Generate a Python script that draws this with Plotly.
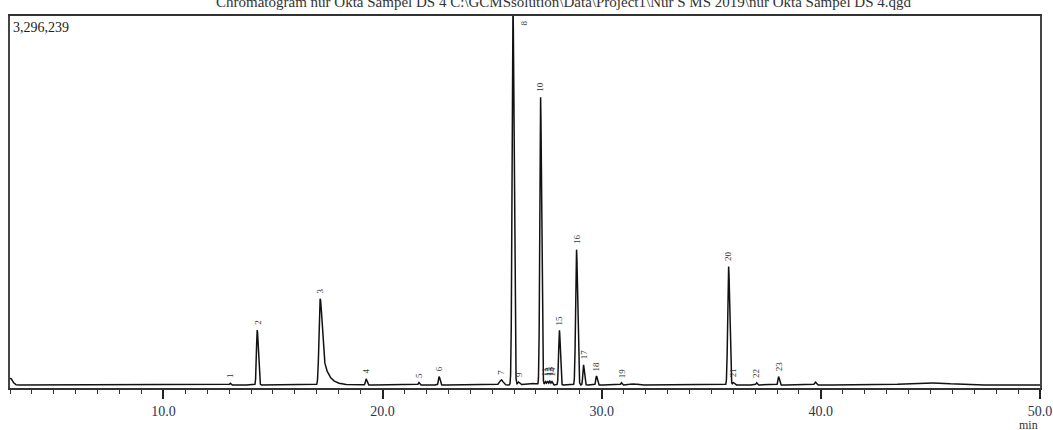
import numpy as np
import plotly.graph_objects as go

# Peak table (retention time in min, height in counts)
peak_labels = ["1", "2", "3", "4", "5", "6", "7", "8", "9", "10", "11", "12", "13", "14",
               "15", "16", "17", "18", "19", "20", "21", "22", "23"]
peak_rt = [13.05, 14.28, 17.15, 19.25, 21.66, 22.58, 25.42, 25.95, 26.20, 27.21, 27.43, 27.53,
           27.63, 27.73, 28.07, 28.85, 29.17, 29.76, 30.90, 35.79, 36.00, 37.07, 38.07]
peak_height = [15000, 490000, 770000, 55000, 22000, 75000, 45000, 3400000, 25000, 2570000,
               30000, 35000, 35000, 30000, 490000, 1210000, 180000, 80000, 20000, 1060000,
               22000, 20000, 75000]
peak_sig_left = [0.03, 0.035, 0.05, 0.03, 0.03, 0.03, 0.08, 0.04, 0.04, 0.035, 0.03, 0.03,
                 0.03, 0.03, 0.035, 0.04, 0.03, 0.03, 0.03, 0.04, 0.03, 0.03, 0.03]
peak_sig_right = [0.03, 0.05, 0.08, 0.04, 0.03, 0.04, 0.08, 0.05, 0.05, 0.045, 0.03, 0.03,
                  0.03, 0.03, 0.04, 0.05, 0.04, 0.04, 0.03, 0.05, 0.05, 0.03, 0.04]
peak_tail = [0, 0, 0.26, 0, 0, 0, 0, 0, 0, 0, 0, 0,
             0, 0, 0, 0, 0, 0, 0, 0, 0, 0, 0]

# Unlabelled baseline features (start artefact, small bumps, late hump)
extra_rt = [3.02, 26.75, 31.40, 39.75, 44.9]
extra_height = [60000, 15000, 10000, 25000, 18000]
extra_sig = [0.10, 0.25, 0.15, 0.04, 1.0]

y_max_label = "3,296,239"
y_max = 3296239
x_ticks = [10.0, 20.0, 30.0, 40.0, 50.0]
title_text = ("Chromatogram nur Okta Sampel DS 4 C:\\GCMSsolution\\Data\\Project1\\Nur S MS 2019"
              "\\nur Okta Sampel DS 4.qgd")

t = np.arange(3.0, 50.0001, 0.004)
signal = np.zeros_like(t)
for rt, h, sl, sr, tau in zip(peak_rt, peak_height, peak_sig_left, peak_sig_right, peak_tail):
    s = np.where(t < rt, sl, sr)
    g = np.exp(-0.5 * ((t - rt) / s) ** 2)
    if tau > 0:
        d = np.clip(t - rt, 0, None)
        tail = (1 - np.exp(-0.5 * (d / sr) ** 2)) * np.exp(-d / tau)
        g = np.where(t < rt, g, g + 0.55 * tail)
    signal += h * g
for rt, h, s in zip(extra_rt, extra_height, extra_sig):
    signal += h * np.exp(-0.5 * ((t - rt) / s) ** 2)

fig = go.Figure()
fig.add_trace(go.Scatter(x=t, y=signal, mode="lines",
                         line=dict(color="#111111", width=1.5), hoverinfo="skip"))

serif = "Liberation Serif, Times New Roman, serif"
annotations = []
for lab, rt, h in zip(peak_labels, peak_rt, peak_height):
    if h >= y_max:
        annotations.append(dict(x=rt + 0.5, y=1, xref="x", yref="paper", text=lab,
                                showarrow=False, textangle=-90, xanchor="center",
                                yanchor="top", yshift=-2,
                                font=dict(family=serif, size=9, color="#444")))
    else:
        annotations.append(dict(x=rt, y=h, xref="x", yref="y", text=lab, showarrow=False,
                                textangle=-90, xanchor="center", yanchor="bottom", yshift=3,
                                font=dict(family=serif, size=9, color="#333")))

annotations.append(dict(x=0, y=1, xref="paper", yref="paper", text=y_max_label,
                        showarrow=False, xanchor="left", yanchor="top", xshift=1, yshift=-2,
                        font=dict(family=serif, size=14, color="#222")))
annotations.append(dict(x=(563 - 10) / 1030, y=1, xref="paper", yref="paper", text=title_text,
                        showarrow=False, xanchor="center", yanchor="bottom", yshift=4,
                        font=dict(family=serif, size=15, color="#333")))
annotations.append(dict(x=1, y=0, xref="paper", yref="paper", text="min",
                        showarrow=False, xanchor="center", yanchor="top", xshift=-12, yshift=-28,
                        font=dict(family=serif, size=12, color="#333")))

fig.update_layout(
    width=1053, height=430,
    margin=dict(l=10, r=13, t=16, b=42, autoexpand=False),
    paper_bgcolor="white", plot_bgcolor="white",
    showlegend=False,
    annotations=annotations,
    xaxis=dict(range=[3.0, 50.0], tickvals=x_ticks, automargin=False,
               ticktext=[f"{v:.1f}" for v in x_ticks],
               ticks="outside", ticklen=9, tickwidth=1.5, tickcolor="#222",
               minor=dict(dtick=1, ticks="outside", ticklen=4, tickwidth=1.2, tickcolor="#333"),
               showgrid=False, zeroline=False,
               showline=True, linecolor="#333", linewidth=1.5, mirror=True,
               tickfont=dict(family=serif, size=14, color="#2a3550")),
    yaxis=dict(range=[-27000, y_max], showticklabels=False, ticks="", automargin=False,
               showgrid=False, zeroline=False,
               showline=True, linecolor="#444", linewidth=2, mirror=True),
)

fig.write_html("out.html", config={"displayModeBar": False},
               post_script="document.body.style.margin='0';document.body.style.overflow='hidden';")
